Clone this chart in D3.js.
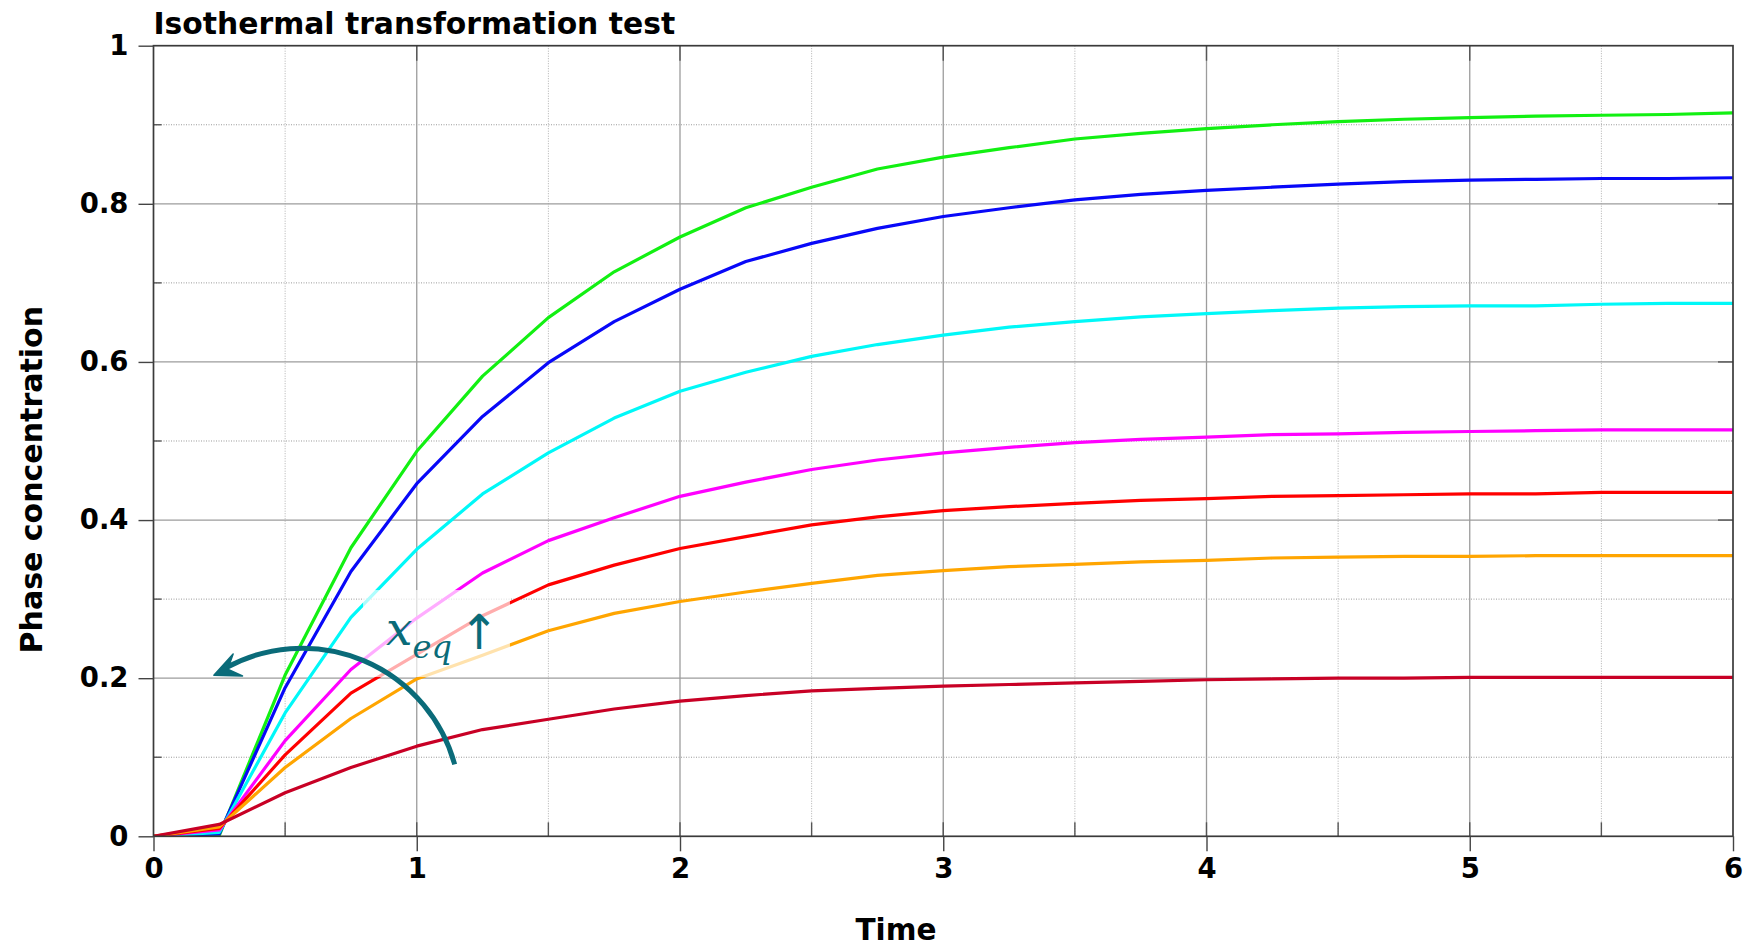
<!DOCTYPE html>
<html><head><meta charset="utf-8">
<script src="https://cdn.jsdelivr.net/npm/d3@7"></script>
<style>body{margin:0;background:#fff} svg{display:block}</style>
</head><body>
<svg id="chart" width="1747" height="947"></svg>
<script>
// ---------- data ----------
const times = [0,0.25,0.5,0.75,1,1.25,1.5,1.75,2,2.25,2.5,2.75,3,3.25,3.5,3.75,4,4.25,4.5,4.75,5,5.25,5.5,5.75,6];
const greenVals   = [0,0.001,0.204,0.365,0.487,0.582,0.656,0.714,0.758,0.795,0.821,0.844,0.859,0.871,0.882,0.889,0.895,0.900,0.904,0.907,0.909,0.911,0.912,0.913,0.915];
const blueVals    = [0,0.003,0.188,0.335,0.446,0.531,0.599,0.651,0.692,0.727,0.750,0.769,0.784,0.795,0.805,0.812,0.817,0.821,0.825,0.828,0.830,0.831,0.832,0.832,0.833];
const cyanVals    = [0,0.005,0.156,0.277,0.363,0.433,0.485,0.529,0.563,0.587,0.607,0.622,0.634,0.644,0.651,0.657,0.661,0.665,0.668,0.670,0.671,0.671,0.673,0.674,0.674];
const magentaVals = [0,0.008,0.121,0.211,0.276,0.333,0.374,0.403,0.430,0.448,0.464,0.476,0.485,0.492,0.498,0.502,0.505,0.508,0.509,0.511,0.512,0.513,0.514,0.514,0.514];
const redVals     = [0,0.010,0.103,0.181,0.230,0.279,0.318,0.343,0.364,0.379,0.394,0.404,0.412,0.417,0.421,0.425,0.427,0.430,0.431,0.432,0.433,0.433,0.435,0.435,0.435];
const orangeVals  = [0,0.012,0.087,0.149,0.199,0.229,0.260,0.282,0.297,0.309,0.320,0.330,0.336,0.341,0.344,0.347,0.349,0.352,0.353,0.354,0.354,0.355,0.355,0.355,0.355];
const darkRedVals = [0,0.015,0.055,0.087,0.114,0.135,0.148,0.161,0.171,0.178,0.184,0.187,0.190,0.192,0.194,0.196,0.198,0.199,0.200,0.200,0.201,0.201,0.201,0.201,0.201];
const seriesNames = ["green","blue","cyan","magenta","red","orange","darkred"];
const seriesData  = [greenVals,blueVals,cyanVals,magentaVals,redVals,orangeVals,darkRedVals];

const xTicks = [0,1,2,3,4,5,6];
const xTickLabels = ["0","1","2","3","4","5","6"];
const xMinor = [0.5,1.5,2.5,3.5,4.5,5.5];
const yTicks = [0,0.2,0.4,0.6,0.8,1];
const yTickLabels = ["0","0.2","0.4","0.6","0.8","1"];
const yMinor = [0.1,0.3,0.5,0.7,0.9];

const titleText = "Isothermal transformation test";
const xLabel = "Time";
const yLabel = "Phase concentration";

// annotation anchors (data coordinates)
const annoBox = [0.796, 0.3115, 1.354, 0.2015];   // t0, v0, t1, v1
const arcCenter = [0.565, 0.038];
const arcStart = [1.144, 0.091];
const arcTip = [0.230, 0.2035];
const annoTextPos = [0.883, 0.242];

// ---------- styles ----------
const colors = {green:"#12f012", blue:"#0808f8", cyan:"#00f8f8", magenta:"#ff00ff", red:"#ff0000", orange:"#ffa500", darkred:"#c80025"};
const teal = "#0a6b79";
const FONT = "'DejaVu Sans', sans-serif";

const W = 1747, H = 947;
const m = {left:153.5, right:14, top:45.7, bottom:110.7};
const iw = W - m.left - m.right, ih = H - m.top - m.bottom;

const svg = d3.select("#chart");
const x = d3.scaleLinear().domain([0,6]).range([0, iw]);
const y = d3.scaleLinear().domain([0,1]).range([ih, 0]);
const g = svg.append("g").attr("transform", `translate(${m.left},${m.top})`);

svg.append("defs").append("clipPath").attr("id","clip")
  .append("rect").attr("width", iw).attr("height", ih);

// minor grid (dotted)
g.append("g").selectAll("line").data(yMinor).join("line")
  .attr("x1",0).attr("x2",iw).attr("y1",d=>y(d)).attr("y2",d=>y(d))
  .attr("stroke","#9a9a9a").attr("stroke-width",1).attr("stroke-dasharray","1,1.5");
g.append("g").selectAll("line").data(xMinor).join("line")
  .attr("y1",0).attr("y2",ih).attr("x1",d=>x(d)).attr("x2",d=>x(d))
  .attr("stroke","#b0b0b0").attr("stroke-width",1).attr("stroke-dasharray","1,1.5");
// major grid (solid)
g.append("g").selectAll("line").data(yTicks.slice(1,-1)).join("line")
  .attr("x1",0).attr("x2",iw).attr("y1",d=>y(d)).attr("y2",d=>y(d))
  .attr("stroke","#9c9c9c").attr("stroke-width",1.3);
g.append("g").selectAll("line").data(xTicks.slice(1,-1)).join("line")
  .attr("y1",0).attr("y2",ih).attr("x1",d=>x(d)).attr("x2",d=>x(d))
  .attr("stroke","#9c9c9c").attr("stroke-width",1.3);

// inner ticks
const tickCol = "#555";
const inner = g.append("g").attr("stroke",tickCol).attr("stroke-width",1.4);
xTicks.slice(1,-1).forEach(d=>{
  inner.append("line").attr("x1",x(d)).attr("x2",x(d)).attr("y1",ih).attr("y2",ih-14);
  inner.append("line").attr("x1",x(d)).attr("x2",x(d)).attr("y1",0).attr("y2",15);
});
xMinor.forEach(d=>{
  inner.append("line").attr("x1",x(d)).attr("x2",x(d)).attr("y1",ih).attr("y2",ih-14);
});
yTicks.slice(1,-1).forEach(d=>{
  inner.append("line").attr("x1",iw).attr("x2",iw-15).attr("y1",y(d)).attr("y2",y(d));
});
yMinor.forEach(d=>{
  inner.append("line").attr("x1",0).attr("x2",8).attr("y1",y(d)).attr("y2",y(d));
});

// series lines
const line = d3.line().x((d,i)=>x(times[i])).y(d=>y(d));
const lines = g.append("g").attr("clip-path","url(#clip)");
seriesData.forEach((vals,k)=>{
  lines.append("path").datum(vals)
    .attr("d", line)
    .attr("fill","none")
    .attr("stroke", colors[seriesNames[k]])
    .attr("stroke-width", 3.2)
    .attr("stroke-linejoin","round");
});

// frame
g.append("rect").attr("width",iw).attr("height",ih)
  .attr("fill","none").attr("stroke","#3a3a3a").attr("stroke-width",1.7);

// axes
const xAxis = g.append("g").attr("transform",`translate(0,${ih})`)
  .call(d3.axisBottom(x).tickValues(xTicks).tickFormat((d,i)=>xTickLabels[i]).tickSizeInner(15).tickSizeOuter(0).tickPadding(7));
const yAxis = g.append("g")
  .call(d3.axisLeft(y).tickValues(yTicks).tickFormat((d,i)=>yTickLabels[i]).tickSizeInner(15).tickSizeOuter(0).tickPadding(10));
[xAxis,yAxis].forEach(a=>{
  a.select(".domain").remove();
  a.selectAll(".tick line").attr("stroke","#444").attr("stroke-width",1.4);
  a.selectAll(".tick text").attr("fill","#000").style("font-family",FONT)
    .style("font-weight","bold").style("font-size","27.5px");
});

// titles
svg.append("text").attr("x",m.left).attr("y",34).text(titleText)
  .style("font-family",FONT).style("font-weight","bold").style("font-size","29.8px").attr("fill","#000");
svg.append("text").attr("x",896).attr("y",939.5).attr("text-anchor","middle").text(xLabel)
  .style("font-family",FONT).style("font-weight","bold").style("font-size","29.5px").attr("fill","#000");
svg.append("text").attr("transform",`translate(41.5,${m.top+434}) rotate(-90)`).attr("text-anchor","middle").text(yLabel)
  .style("font-family",FONT).style("font-weight","bold").style("font-size","30px").attr("fill","#000");

// annotation: semi-transparent text box
g.append("rect")
  .attr("x", x(annoBox[0])).attr("y", y(annoBox[1]))
  .attr("width", x(annoBox[2]) - x(annoBox[0])).attr("height", y(annoBox[3]) - y(annoBox[1]))
  .attr("fill","#fff").attr("fill-opacity",0.68);

// text x_eq ↑
const tx = x(annoTextPos[0]), ty = y(annoTextPos[1]);
const t1 = g.append("text").attr("x",tx).attr("y",ty).attr("fill",teal)
  .style("font-family","'DejaVu Serif', serif").style("font-style","italic");
t1.append("tspan").text("x").style("font-size","47px");
t1.append("tspan").text("eq").attr("dy",13).style("font-size","32px");
g.append("text").attr("x",tx+73).attr("y",ty+4).attr("fill",teal).text("↑")
  .style("font-family","'DejaVu Sans', sans-serif").style("font-size","48px");

// arc with arrowhead
const cx = x(arcCenter[0]), cy = y(arcCenter[1]);
const sx = x(arcStart[0]), sy = y(arcStart[1]);
const ex = x(arcTip[0]), ey = y(arcTip[1]);
const r = Math.hypot(sx-cx, sy-cy);
const a0 = Math.atan2(sy-cy, sx-cx);
const aTip = Math.atan2(ey-cy, ex-cx);
const aEnd = aTip + 14/r;
const p = d3.path();
p.arc(cx, cy, r, a0, aEnd, true);
g.append("path").attr("d", p.toString()).attr("fill","none").attr("stroke",teal).attr("stroke-width",5);
const aDir = aTip + 0.19;
const dx = Math.sin(aDir), dy = -Math.cos(aDir);
const nx = -dy, ny = dx;
const tipX = cx + r*Math.cos(aTip), tipY = cy + r*Math.sin(aTip);
const pt = (u,v)=>[tipX + dx*u + nx*v, tipY + dy*u + ny*v];
const head = [pt(0,0), pt(-26,-12), pt(-15,0), pt(-26,12)];
g.append("path").attr("d", "M"+head.map(q=>q.join(",")).join("L")+"Z").attr("fill",teal)
  .attr("stroke",teal).attr("stroke-width",1.5).attr("stroke-linejoin","round");
</script>
</body></html>
